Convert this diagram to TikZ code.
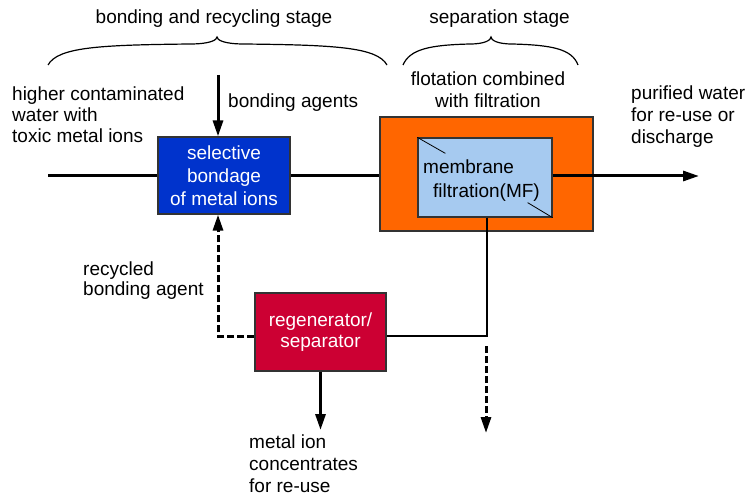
\documentclass[tikz,border=0pt]{standalone}
\usepackage{fontspec}
\setmainfont{Liberation Sans}
\usetikzlibrary{arrows.meta}
\definecolor{boxblue}{HTML}{0033CC}
\definecolor{boxorange}{HTML}{FF6600}
\definecolor{boxlight}{HTML}{A6CAF0}
\definecolor{boxred}{HTML}{CC0033}
\definecolor{edgegray}{HTML}{333333}
\begin{document}
\begin{tikzpicture}[x=1pt,y=-1pt,
  txt/.style={font=\fontsize{19}{21}\selectfont, inner sep=0pt, align=left},
  procbox/.style={draw=edgegray, line width=1.2pt, inner sep=0pt,
    font=\fontsize{19}{23}\selectfont, align=center},
  mainline/.style={line width=3pt},
  thinline/.style={line width=1.8pt},
  tip/.style={-{Triangle[width=10pt,length=16pt]}},
  dashline/.style={line width=3pt, dash pattern=on 7pt off 3pt},
  bracestyle/.style={line width=1.2pt}]
\useasboundingbox (0,0) rectangle (746,497);

% boxes
\node[procbox, fill=boxblue, text=white, minimum width=132pt, minimum height=77pt]
  (blue) at (224,175.5) {selective\\bondage\\of metal ions};
\node[procbox, fill=boxorange, minimum width=213pt, minimum height=114pt]
  (orange) at (486.5,174) {};
\node[procbox, fill=boxlight, minimum width=134pt, minimum height=79pt]
  (mf) at (485,177.5) {};
\node[procbox, fill=boxred, text=white, font=\fontsize{19}{21}\selectfont,
  minimum width=131pt, minimum height=78pt]
  (regen) at (320.5,332) {regenerator/\\separator};

\draw[line width=0.8pt] (mf.north west) -- ++(28,16);
\draw[line width=0.8pt] (mf.south east) -- ++(-25,-15);
\node[txt, anchor=base west] (mftext) at (423,197)
  {membrane\\[3pt]\hspace*{10pt}filtration(MF)};

% coordinates
\coordinate (in) at (48,176);
\coordinate (out) at (699,176);
\coordinate (bondtop) at (218,75);
\coordinate (regout) at (320.5,430);
\coordinate (mfdash1) at (486,346);
\coordinate (mfdash2) at (486,433);

% main line
\draw[mainline] (in) -- (in -| blue.west);
\draw[mainline] (in -| blue.east) -- (in -| orange.west);
\draw[mainline, tip] (in -| mf.east) -- (out);

% other connectors
\draw[mainline, tip] (bondtop) -- ([xshift=-6pt]blue.north);
\draw[thinline] ([xshift=2pt]mf.south) |- ([yshift=-4pt]regen.east);
\draw[dashline, tip] ([yshift=-4pt]regen.west) -| ([xshift=-6pt]blue.south);
\draw[mainline, tip] (regen.south) -- (regout);
\draw[dashline, tip] (mfdash1) -- (mfdash2);

% braces
\draw[bracestyle] (48,65) .. controls (58,47) and (100,45) .. (190,44)
  .. controls (210,44) and (217,40) .. (217,37)
  .. controls (217,40) and (224,44) .. (244,44)
  .. controls (334,45) and (377,47) .. (387,65);
\draw[bracestyle] (403,65) .. controls (410,49) and (430,45) .. (470,44)
  .. controls (485,44) and (491,40) .. (491,37)
  .. controls (491,40) and (497,44) .. (512,44)
  .. controls (552,45) and (572,49) .. (578,65);

% labels
\node[txt, anchor=base] (stage1) at (214,24) {bonding and recycling stage};
\node[txt, anchor=base] (stage2) at (499.5,24) {separation stage};
\node[txt, anchor=base, align=center, font=\fontsize{19}{22}\selectfont] (flot) at (488,108) {flotation combined\\with filtration};
\node[txt, anchor=base west] (inlabel) at (12,143) {higher contaminated\\water with\\toxic metal ions};
\node[txt, anchor=base west] (bondlabel) at (228,108) {bonding agents};
\node[txt, anchor=base west, font=\fontsize{19}{22}\selectfont] (outlabel) at (631,144) {purified water\\for re-use or\\discharge};
\node[txt, anchor=base west, font=\fontsize{19}{20}\selectfont] (reclabel) at (83,295) {recycled\\bonding agent};
\node[txt, anchor=base west, font=\fontsize{19}{22}\selectfont] (metlabel) at (249,492) {metal ion\\concentrates\\for re-use};
\end{tikzpicture}
\end{document}
